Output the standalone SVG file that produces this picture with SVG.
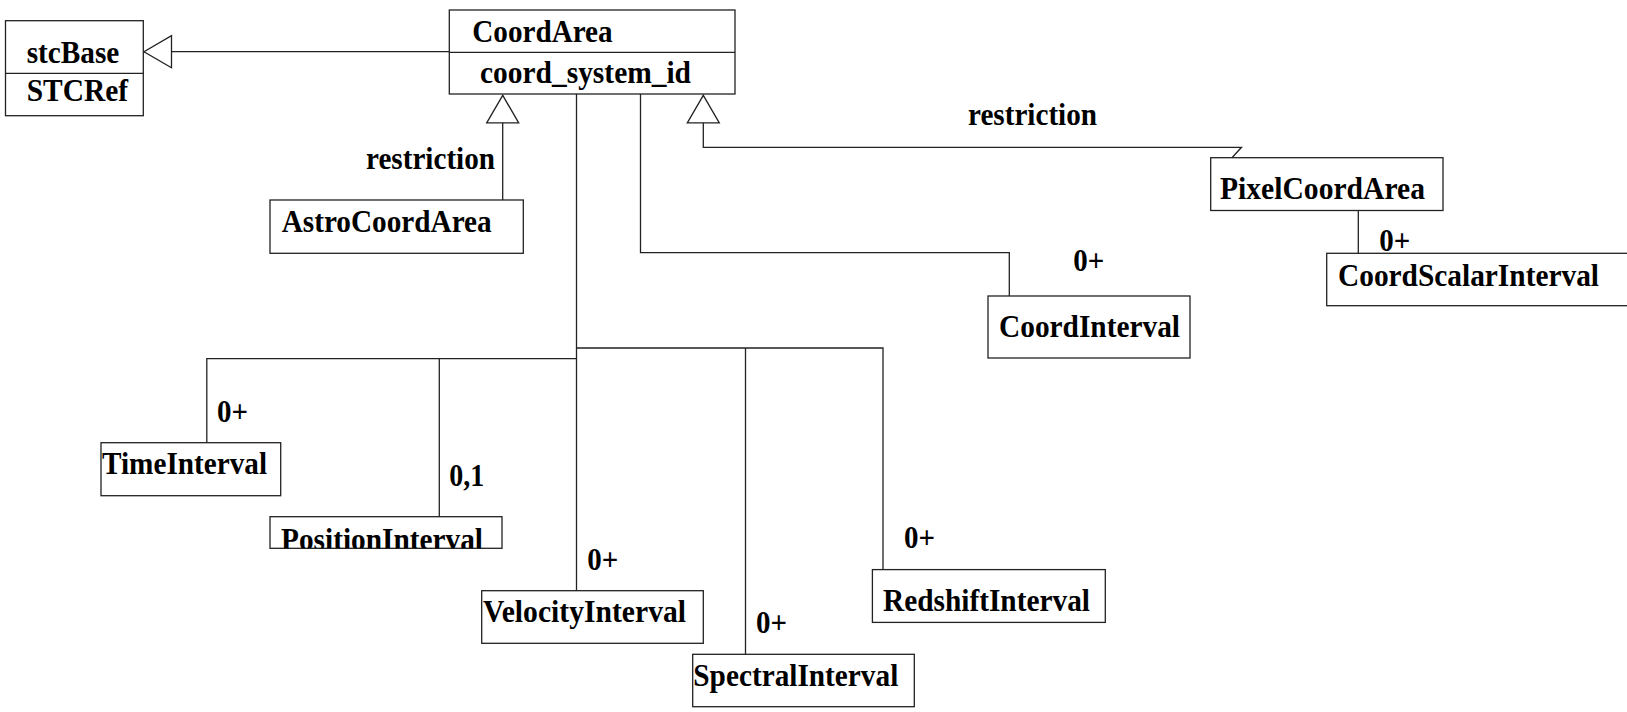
<svg xmlns="http://www.w3.org/2000/svg" width="1627" height="712" viewBox="0 0 1627 712">
  <style>
    .box { fill: #fff; stroke: #222; stroke-width: 1.3; }
    .ln { fill: none; stroke: #222; stroke-width: 1.3; }
    text { font-family: "Liberation Serif", "Times New Roman", serif; font-weight: bold; font-size: 32px; fill: #000; }
    .m { font-size: 31px; }
  </style>
  <defs>
    <!-- hollow generalization triangle -->
    <marker id="gen" markerUnits="userSpaceOnUse" markerWidth="32" markerHeight="36" refX="28" refY="16.5" orient="auto" overflow="visible">
      <path d="M0.5,0.5 L28,16.5 L0.5,32.5 Z" fill="#fff" stroke="#222" stroke-width="1.3"/>
    </marker>
    <clipPath id="clipPos"><rect x="270" y="516.7" width="232" height="31.6"/></clipPath>
  </defs>

  <!-- classes -->
  <g id="stcBase">
    <rect class="box" x="5.5" y="20.7" width="137.8" height="95"/>
    <line class="ln" x1="5.5" y1="73.3" x2="143.3" y2="73.3"/>
    <text x="26.7" y="63.3" textLength="92.6" lengthAdjust="spacingAndGlyphs">stcBase</text>
    <text x="26.7" y="100.7" textLength="101.3" lengthAdjust="spacingAndGlyphs">STCRef</text>
  </g>
  <g id="CoordArea">
    <rect class="box" x="449.3" y="10" width="285.7" height="84"/>
    <line class="ln" x1="449.3" y1="52.3" x2="735" y2="52.3"/>
    <text x="472.3" y="41.7" textLength="140.3" lengthAdjust="spacingAndGlyphs">CoordArea</text>
    <text x="480" y="83.3" textLength="211" lengthAdjust="spacingAndGlyphs">coord_system_id</text>
  </g>
  <g id="AstroCoordArea">
    <rect class="box" x="270" y="200" width="253.3" height="53.3"/>
    <text x="281.7" y="231.7" textLength="210" lengthAdjust="spacingAndGlyphs">AstroCoordArea</text>
  </g>
  <g id="PixelCoordArea">
    <rect class="box" x="1210.7" y="157.7" width="232.3" height="52.8"/>
    <text x="1220" y="199.3" textLength="205" lengthAdjust="spacingAndGlyphs">PixelCoordArea</text>
  </g>
  <g id="CoordScalarInterval">
    <rect class="box" x="1326.7" y="253.3" width="320" height="52.4"/>
    <text x="1338" y="286" textLength="261" lengthAdjust="spacingAndGlyphs">CoordScalarInterval</text>
  </g>
  <g id="CoordInterval">
    <rect class="box" x="988" y="296" width="202" height="62"/>
    <text x="999" y="337" textLength="181" lengthAdjust="spacingAndGlyphs">CoordInterval</text>
  </g>
  <g id="TimeInterval">
    <rect class="box" x="101" y="442.7" width="179.7" height="53"/>
    <text x="102" y="474.3" textLength="165" lengthAdjust="spacingAndGlyphs">TimeInterval</text>
  </g>
  <g id="PositionInterval">
    <rect class="box" x="270" y="516.7" width="232" height="31.6"/>
    <text x="281" y="550" textLength="202" lengthAdjust="spacingAndGlyphs" clip-path="url(#clipPos)">PositionInterval</text>
  </g>
  <g id="VelocityInterval">
    <rect class="box" x="481.7" y="590.7" width="221.6" height="52.6"/>
    <text x="483" y="621.7" textLength="203" lengthAdjust="spacingAndGlyphs">VelocityInterval</text>
  </g>
  <g id="SpectralInterval">
    <rect class="box" x="692.7" y="654.3" width="221.6" height="52.4"/>
    <text x="693.3" y="685.7" textLength="205" lengthAdjust="spacingAndGlyphs">SpectralInterval</text>
  </g>
  <g id="RedshiftInterval">
    <rect class="box" x="872.4" y="569.6" width="232.9" height="52.8"/>
    <text x="883" y="611" textLength="207" lengthAdjust="spacingAndGlyphs">RedshiftInterval</text>
  </g>

  <!-- connectors -->
  <g id="connectors">
    <!-- generalizations -->
    <path class="ln" d="M449.3,51.7 H144" marker-end="url(#gen)"/>
    <path class="ln" d="M502.7,200 V95.3" marker-end="url(#gen)"/>
    <path class="ln" d="M1232,157.7 L1241.5,147.3 H703.3 V95.3" marker-end="url(#gen)"/>
    <text x="366" y="169.3" textLength="129" lengthAdjust="spacingAndGlyphs">restriction</text>
    <text x="968" y="125" textLength="129" lengthAdjust="spacingAndGlyphs">restriction</text>

    <!-- associations -->
    <path class="ln" d="M576.5,94 V590.7"/>
    <path class="ln" d="M206.8,442.7 V358.7 H576.5"/>
    <path class="ln" d="M439.3,358.7 V516.7"/>
    <path class="ln" d="M576.5,348 H883 V569.6"/>
    <path class="ln" d="M745.5,348 V654.3"/>
    <path class="ln" d="M640.5,94 V252.7 H1009.3 V296"/>
    <path class="ln" d="M1358.3,210.5 V253.3"/>

    <!-- multiplicities -->
    <text class="m" x="217" y="421.7" textLength="31" lengthAdjust="spacingAndGlyphs">0+</text>
    <text class="m" x="449.3" y="486" textLength="35" lengthAdjust="spacingAndGlyphs">0,1</text>
    <text class="m" x="587.3" y="570" textLength="31" lengthAdjust="spacingAndGlyphs">0+</text>
    <text class="m" x="756" y="632.7" textLength="31" lengthAdjust="spacingAndGlyphs">0+</text>
    <text class="m" x="904" y="548.3" textLength="31" lengthAdjust="spacingAndGlyphs">0+</text>
    <text class="m" x="1073.3" y="271" textLength="31" lengthAdjust="spacingAndGlyphs">0+</text>
    <text class="m" x="1379.3" y="250.5" textLength="31" lengthAdjust="spacingAndGlyphs">0+</text>
  </g>
</svg>
